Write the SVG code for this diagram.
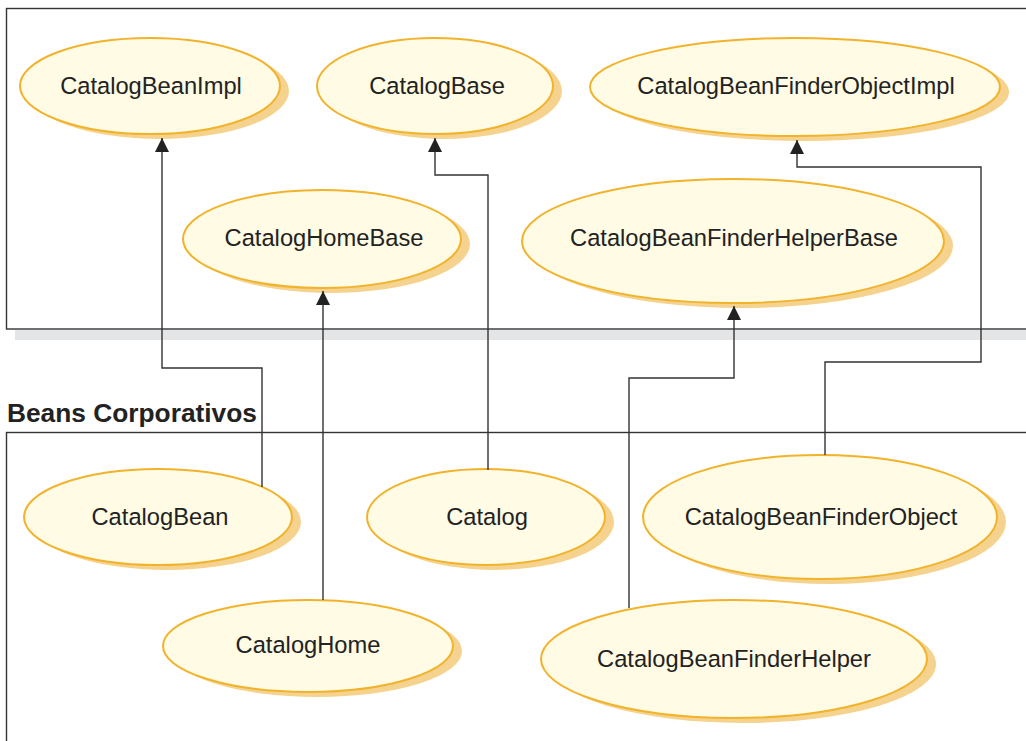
<svg xmlns="http://www.w3.org/2000/svg" width="1026" height="741" viewBox="0 0 1026 741">
<style>
.sh{fill:#f5d38e;stroke:none}
.el{fill:#fffbe4;stroke:#f1b32c;stroke-width:2}
.lb{font-family:"Liberation Sans",Arial,sans-serif;font-size:23.7px;fill:#222;text-anchor:middle}
.ttl{font-family:"Liberation Sans",Arial,sans-serif;font-size:26.3px;font-weight:bold;fill:#222}
.box{fill:none;stroke:#333;stroke-width:1.4}
.cn{fill:none;stroke:#333;stroke-width:1.4;marker-end:url(#ah)}
</style>
<defs>
<marker id="ah" markerUnits="userSpaceOnUse" markerWidth="16" markerHeight="14" refX="14" refY="7" orient="auto" viewBox="0 0 16 14">
<path d="M0,0 L14,7 L0,14 Z" fill="#222"/>
</marker>
</defs>
<rect width="1026" height="741" fill="#fff"/>
<rect x="15" y="330" width="1015" height="10" fill="#e4e5e7"/>
<rect class="box" x="6.5" y="8.5" width="1030" height="320.5"/>
<rect class="box" x="6.5" y="432.5" width="1030" height="320"/>
<text class="ttl" x="7" y="422">Beans Corporativos</text>

<g id="n-catalogbeanimpl"><ellipse class="sh" cx="159" cy="91" rx="130" ry="48"/><ellipse class="el" cx="150" cy="86" rx="130" ry="48"/><text class="lb" x="151" y="94">CatalogBeanImpl</text></g>
<g id="n-catalogbase"><ellipse class="sh" cx="444" cy="91" rx="118" ry="48"/><ellipse class="el" cx="435" cy="86" rx="118" ry="48"/><text class="lb" x="437" y="94">CatalogBase</text></g>
<g id="n-catalogbeanfinderobjectimpl"><ellipse class="sh" cx="804" cy="92" rx="205" ry="49"/><ellipse class="el" cx="795" cy="87" rx="205" ry="49"/><text class="lb" x="796" y="94">CatalogBeanFinderObjectImpl</text></g>
<g id="n-cataloghomebase"><ellipse class="sh" cx="331" cy="244" rx="139" ry="49"/><ellipse class="el" cx="322" cy="239" rx="139" ry="49"/><text class="lb" x="324" y="246">CatalogHomeBase</text></g>
<g id="n-catalogbeanfinderhelperbase"><ellipse class="sh" cx="742" cy="246" rx="211" ry="62"/><ellipse class="el" cx="733" cy="241" rx="211" ry="62"/><text class="lb" x="734" y="246">CatalogBeanFinderHelperBase</text></g>
<g id="n-catalogbean"><ellipse class="sh" cx="167" cy="522" rx="134" ry="48"/><ellipse class="el" cx="158" cy="517" rx="134" ry="48"/><text class="lb" x="160" y="525">CatalogBean</text></g>
<g id="n-catalog"><ellipse class="sh" cx="495" cy="522" rx="119" ry="48"/><ellipse class="el" cx="486" cy="517" rx="119" ry="48"/><text class="lb" x="487" y="525">Catalog</text></g>
<g id="n-catalogbeanfinderobject"><ellipse class="sh" cx="829" cy="522" rx="177" ry="62"/><ellipse class="el" cx="820" cy="517" rx="177" ry="62"/><text class="lb" x="821" y="525">CatalogBeanFinderObject</text></g>
<g id="n-cataloghome"><ellipse class="sh" cx="317" cy="651" rx="145" ry="46"/><ellipse class="el" cx="308" cy="646" rx="145" ry="46"/><text class="lb" x="308" y="653">CatalogHome</text></g>
<g id="n-catalogbeanfinderhelper"><ellipse class="sh" cx="743" cy="664" rx="193" ry="59"/><ellipse class="el" cx="734" cy="659" rx="193" ry="59"/><text class="lb" x="734" y="667">CatalogBeanFinderHelper</text></g>

<g id="connectors">
<path class="cn" d="M262,487 V368 H162 V138"/>
<path class="cn" d="M323,600 V291"/>
<path class="cn" d="M488,470 V175 H435 V138"/>
<path class="cn" d="M629,608 V378 H734 V306"/>
<path class="cn" d="M825,455 V362 H981 V167 H797 V140"/>
</g>
</svg>
